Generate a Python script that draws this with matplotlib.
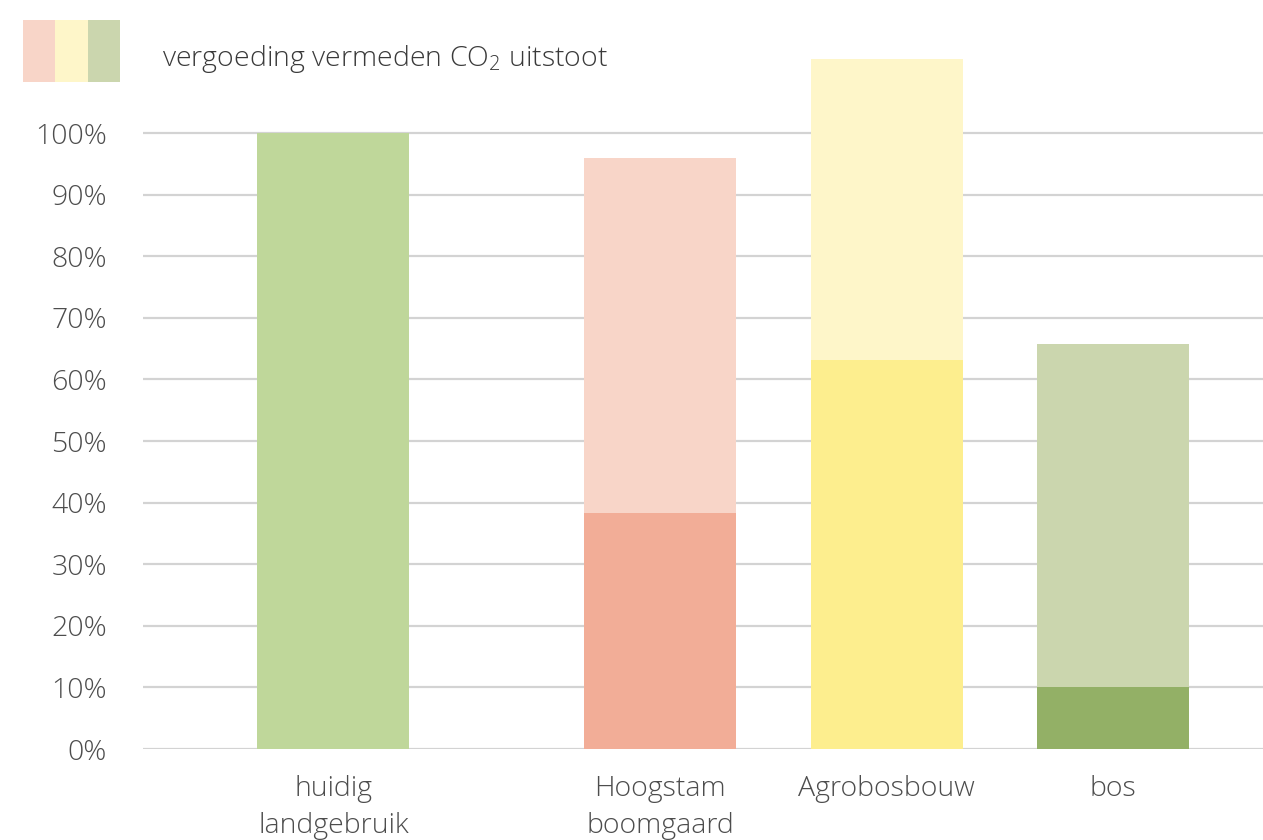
import matplotlib
matplotlib.use("Agg")
import matplotlib.pyplot as plt
from matplotlib.patches import Rectangle

plt.rcParams['font.family'] = ['Open Sans', 'DejaVu Sans']
plt.rcParams['mathtext.default'] = 'regular'

# ---- data ----
categories = ["huidig\nlandgebruik", "Hoogstam\nboomgaard", "Agrobosbouw", "bos"]
base_values = [100, 38.3, 63.1, 10.0]
extra_values = [0, 57.6, 48.9, 55.7]
y_ticks = [0, 10, 20, 30, 40, 50, 60, 70, 80, 90, 100]
y_tick_labels = ["0%", "10%", "20%", "30%", "40%", "50%", "60%", "70%", "80%", "90%", "100%"]
legend_label = "vergoeding vermeden CO$_2$ uitstoot"

# ---- styles ----
base_colors = ["#BFD79A", "#F2AD97", "#FDEE8E", "#93B066"]
extra_colors = ["#BFD79A", "#F8D5C8", "#FEF6C9", "#CBD6AE"]
legend_colors = ["#F8D5C8", "#FEF6C9", "#CBD6AE"]
x_pos = [0, 1.44, 2.44, 3.44]
text_color = "#4D4D4D"

W, H = 1263, 840
fig = plt.figure(figsize=(W / 100, H / 100), dpi=100)
ax = fig.add_axes([143 / W, (H - 749) / H, (W - 143) / W, 0.8433])

ax.bar(x_pos, base_values, width=0.67, color=base_colors, zorder=3)
ax.bar(x_pos, extra_values, bottom=base_values, width=0.67, color=extra_colors, zorder=3)

ax.set_xlim(-0.84, 4.1)
ax.set_ylim(0, 115)
ax.set_yticks(y_ticks)
ax.set_yticklabels(y_tick_labels)
ax.set_xticks(x_pos)
ax.set_xticklabels(categories, linespacing=1.4, va='top')
for lbl in ax.get_yticklabels() + ax.get_xticklabels():
    lbl.set_color(text_color)
    lbl.set_fontsize(20.5)
    lbl.set_fontweight('light')
ax.tick_params(axis='y', length=0, pad=26)
ax.tick_params(axis='x', length=0, pad=19)
for s in ax.spines.values():
    s.set_visible(False)
for y in y_ticks:
    ax.axhline(y, color="#D3D3D3", lw=1.6, zorder=1)

# legend
lx, ly, lw, lh = 23, 20, 32.3, 62
for i, c in enumerate(legend_colors):
    fig.add_artist(Rectangle(((lx + i * lw) / W, (H - ly - lh) / H), lw / W, lh / H,
                             transform=fig.transFigure, color=c, lw=0))
fig.text(162 / W, (H - 66) / H, legend_label, fontsize=20.5, color="#3A3A3A",
         fontweight='light', va='baseline', ha='left')

fig.savefig("out.png", dpi=100, facecolor="white")
